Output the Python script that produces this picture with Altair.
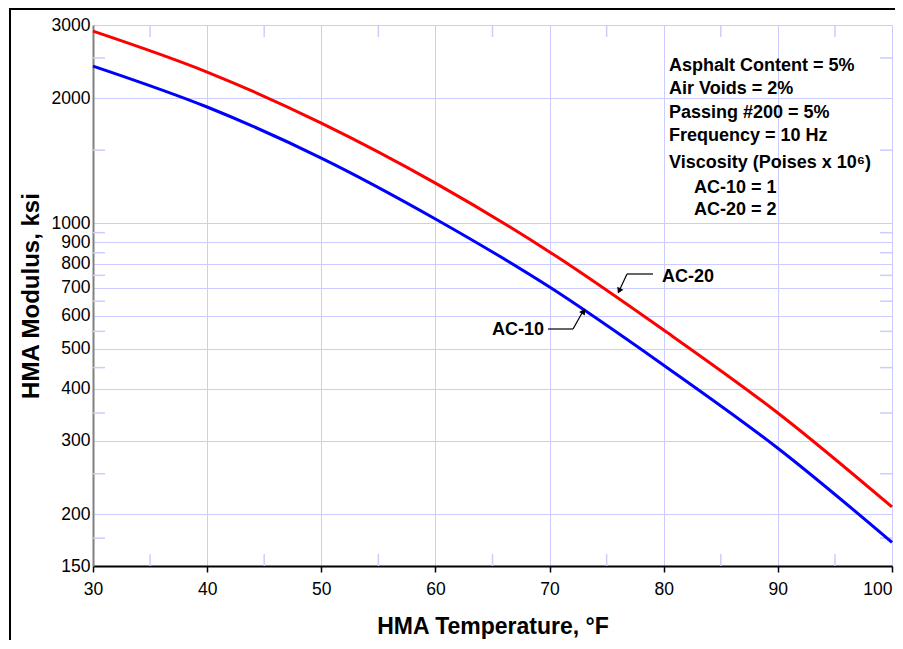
import altair as alt
import pandas as pd

# ---- data ----
temps = [30, 40, 50, 60, 70, 80, 90, 100]
ac20 = [2900, 2312, 1743, 1250, 854, 554, 350, 208]
ac10 = [2390, 1905, 1436, 1025, 703, 456, 288, 171]
series_names = ["AC-10", "AC-20"]
series_colors = ["#0000ff", "#ff0000"]

x_ticks = [30, 40, 50, 60, 70, 80, 90, 100]
y_ticks = [150, 200, 300, 400, 500, 600, 700, 800, 900, 1000, 2000, 3000]
x_minor = [35, 45, 55, 65, 75, 85, 95]
y_minor = [175, 250, 350, 450, 550, 650, 750, 850, 950, 1500, 2500]

info_lines = ["Asphalt Content = 5%", "Air Voids = 2%", "Passing #200 = 5%", "Frequency = 10 Hz"]
visc_line = "Viscosity (Poises x 10\u2076)"
visc_lines = ["AC-10 = 1", "AC-20 = 2"]

FONT = "Liberation Sans"
GRID = "#ccccff"
W, H = 799, 541
XTITLE = "HMA Temperature, \u00b0F"
YTITLE = "HMA Modulus, ksi"

rows = []
for t, a in zip(temps, ac10):
    rows.append({"temp": t, "mod": a, "mix": "AC-10"})
for t, a in zip(temps, ac20):
    rows.append({"temp": t, "mod": a, "mix": "AC-20"})
df = pd.DataFrame(rows)

xscale = alt.Scale(domain=[30, 100], nice=False, zero=False)
yscale = alt.Scale(type="log", domain=[150, 3000], nice=False)

xaxis = alt.Axis(values=x_ticks, title=XTITLE, grid=True, gridColor=GRID, format="d",
                 gridWidth=1, domainColor="black", domainWidth=2, tickColor="black",
                 tickSize=6, tickWidth=1.5, labelFontSize=17.5, labelFont=FONT, labelPadding=8,
                 labelAlign={"expr": "datum.value == 100 ? 'right' : 'center'"},
                 labelFlush=False, labelColor="black", titleFont=FONT, titleFontSize=23,
                 titleFontWeight="bold", titleColor="black", titlePadding=18)
yaxis = alt.Axis(values=y_ticks, title=YTITLE, grid=True, gridColor=GRID, format="d",
                 gridWidth=1, domainColor="#808080", domainWidth=2, tickSize=0,
                 labelFontSize=17.5, labelFont=FONT, labelPadding=3, labelOverlap=False,
                 labelColor="black", labelFlush=False, titleFont=FONT, titleFontSize=24,
                 titleFontWeight="bold", titleColor="black", titlePadding=8)

lines = alt.Chart(df).mark_line(strokeWidth=3, interpolate="monotone").encode(
    x=alt.X("temp:Q", scale=xscale, axis=xaxis, title=XTITLE),
    y=alt.Y("mod:Q", scale=yscale, axis=yaxis, title=YTITLE),
    color=alt.Color("mix:N", scale=alt.Scale(domain=series_names, range=series_colors), legend=None),
)

xm = pd.DataFrame({"v": x_minor})
ym = pd.DataFrame({"v": y_minor})
minor_bottom = alt.Chart(xm).mark_rule(color=GRID, strokeWidth=1.5).encode(
    x=alt.X("v:Q", scale=xscale, axis=xaxis, title=XTITLE), y=alt.value(H - 12), y2=alt.value(H))
minor_top = alt.Chart(xm).mark_rule(color=GRID, strokeWidth=1.5).encode(
    x=alt.X("v:Q", scale=xscale, axis=xaxis, title=XTITLE), y=alt.value(0), y2=alt.value(12))
minor_left = alt.Chart(ym).mark_rule(color=GRID, strokeWidth=1.5).encode(
    y=alt.Y("v:Q", scale=yscale, axis=yaxis, title=YTITLE), x=alt.value(0), x2=alt.value(12))
minor_right = alt.Chart(ym).mark_rule(color=GRID, strokeWidth=1.5).encode(
    y=alt.Y("v:Q", scale=yscale, axis=yaxis, title=YTITLE), x=alt.value(W - 12), x2=alt.value(W))

one = alt.Data(values=[{}])
txt = dict(font=FONT, fontSize=18, fontWeight="bold", color="black")
info = alt.Chart(one).mark_text(text=info_lines, align="left", baseline="alphabetic",
                                lineHeight=23.3, **txt).encode(x=alt.value(576), y=alt.value(46))
visc = alt.Chart(one).mark_text(text=visc_line, align="left", baseline="alphabetic",
                                **txt).encode(x=alt.value(576), y=alt.value(142.5))
visc2 = alt.Chart(one).mark_text(text=visc_lines, align="left", baseline="alphabetic",
                                 lineHeight=22, **txt).encode(x=alt.value(601), y=alt.value(167.5))

lab20 = alt.Chart(one).mark_text(text="AC-20", align="center", baseline="middle", **txt).encode(
    x=alt.value(595), y=alt.value(252))
lab10 = alt.Chart(one).mark_text(text="AC-10", align="center", baseline="middle", **txt).encode(
    x=alt.value(425), y=alt.value(305))

def seg(x1, y1, x2, y2):
    return alt.Chart(one).mark_rule(color="black", strokeWidth=1.2).encode(
        x=alt.value(x1), y=alt.value(y1), x2=alt.value(x2), y2=alt.value(y2))

def head(x, y, ang):
    return alt.Chart(one).mark_point(shape="triangle", filled=True, size=45, angle=ang,
                                     color="black", opacity=1).encode(x=alt.value(x), y=alt.value(y))

arrows = [
    seg(560, 249, 534, 249), seg(534, 249, 527, 264), head(526.5, 265, 205),
    seg(455, 304, 480, 304), seg(480, 304, 489, 288), head(490, 287, 31),
]

frame = alt.Chart(one).mark_rect(fill="transparent", stroke="black", strokeWidth=2).encode(
    x=alt.value(-83), x2=alt.value(900), y=alt.value(-16), y2=alt.value(700))

chart = alt.layer(
    minor_bottom, minor_top, minor_left, minor_right, lines,
    info, visc, visc2, lab20, lab10, *arrows, frame
).properties(
    width=W, height=H,
    autosize=alt.AutoSizeParams(type="none"),
    padding={"left": 85, "top": 17, "right": 3, "bottom": 74},
).configure_view(stroke="#808080", strokeWidth=2).configure(background="white")

chart.save("out.html", embed_options={"renderer": "svg", "actions": False})
